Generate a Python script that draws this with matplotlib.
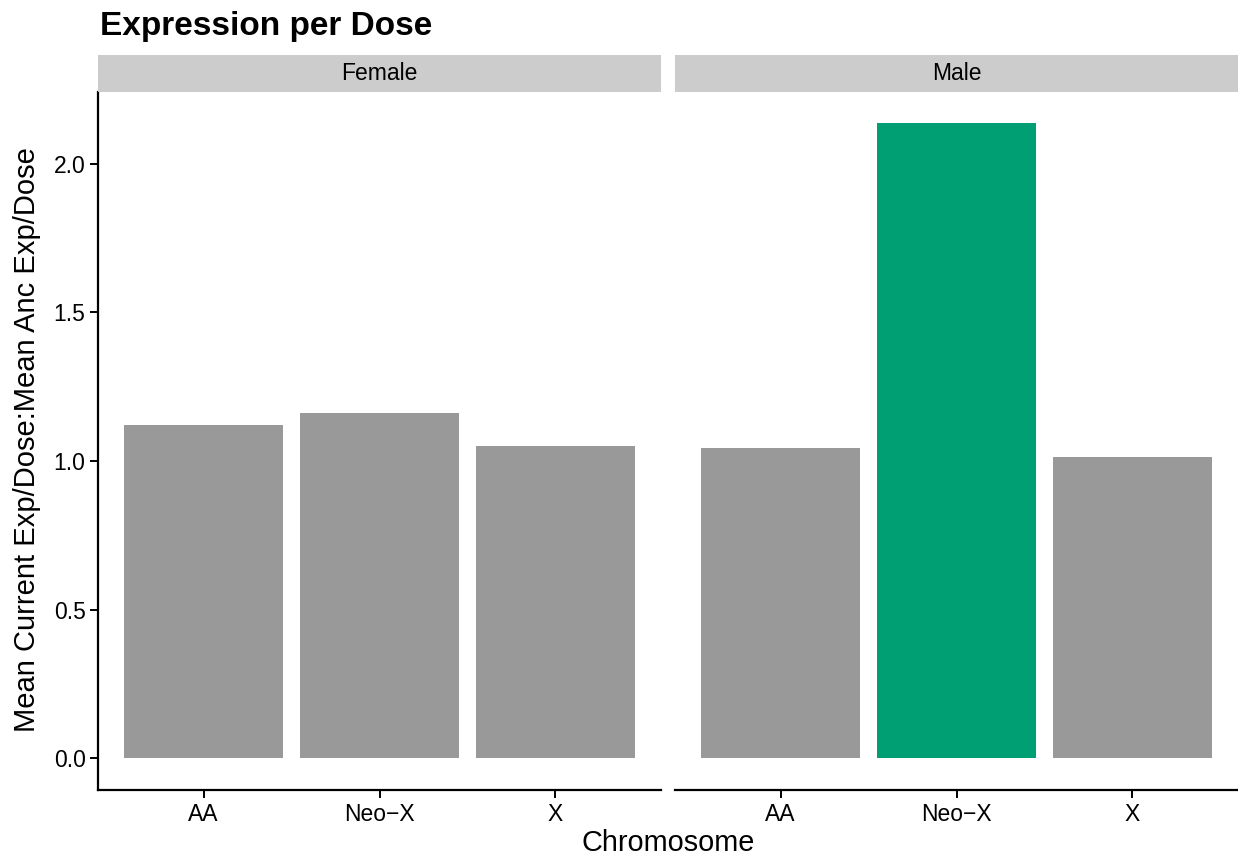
import matplotlib
matplotlib.use("Agg")
import matplotlib.pyplot as plt

plt.rcParams['font.family'] = ['Liberation Sans', 'DejaVu Sans']

# data
sexes = ["Female", "Male"]
chromosomes = ["AA", "Neo\u2212X", "X"]
female_vals = [1.122, 1.163, 1.050]
male_vals = [1.043, 2.137, 1.015]
highlight = [(1, 1)]  # (panel, bar) shown in green

GREY = "#999999"
GREEN = "#009E73"

W, H = 1238, 863
fig = plt.figure(figsize=(W / 100, H / 100), dpi=100)

def px_axes(x0, y0, x1, y1):
    return fig.add_axes([x0 / W, 1 - y1 / H, (x1 - x0) / W, (y1 - y0) / H])

panels = [(98, 661), (675, 1238)]
top, bottom = 92, 790
ymin, ymax = -0.107, 2.242

for i, (sex, vals) in enumerate(zip(sexes, [female_vals, male_vals])):
    x0, x1 = panels[i]
    ax = px_axes(x0, top, x1, bottom)
    xs = list(range(1, len(chromosomes) + 1))
    colors = [GREEN if (i, j) in highlight else GREY for j in range(len(vals))]
    ax.bar(xs, vals, width=0.9, color=colors, linewidth=0)
    ax.set_xlim(0.4, 3.6)
    ax.set_ylim(ymin, ymax)
    ax.set_xticks(xs)
    ax.set_xticklabels(chromosomes, fontsize=16.5, color="black")
    ax.spines["top"].set_visible(False)
    ax.spines["right"].set_visible(False)
    ax.spines["bottom"].set_linewidth(1.6)
    ax.tick_params(axis="x", length=6, width=1.4, pad=3)
    if i == 0:
        ax.spines["left"].set_linewidth(1.6)
        ax.set_yticks([0, 0.5, 1.0, 1.5, 2.0])
        ax.set_yticklabels(["0.0", "0.5", "1.0", "1.5", "2.0"], fontsize=16.5, color="black")
        ax.tick_params(axis="y", length=6, width=1.4, pad=3)
    else:
        ax.spines["left"].set_visible(False)
        ax.set_yticks([])

    # facet strip
    sax = px_axes(x0, 55, x1, 92)
    sax.set_facecolor("#CCCCCC")
    sax.set_xticks([])
    sax.set_yticks([])
    for s in sax.spines.values():
        s.set_visible(False)
    sax.text(0.5, 0.5, sex, ha="center", va="center", fontsize=16.5, color="black",
             transform=sax.transAxes)

fig.text(100 / W, 1 - 26 / H, "Expression per Dose", fontsize=24, fontweight="bold",
         ha="left", va="center")
fig.text(668 / W, 1 - 843 / H, "Chromosome", fontsize=20.8, ha="center", va="center")
fig.text(27 / W, 1 - 440 / H, "Mean Current Exp/Dose:Mean Anc Exp/Dose", fontsize=21,
         rotation=90, ha="center", va="center")

fig.savefig("out.png", dpi=100)
